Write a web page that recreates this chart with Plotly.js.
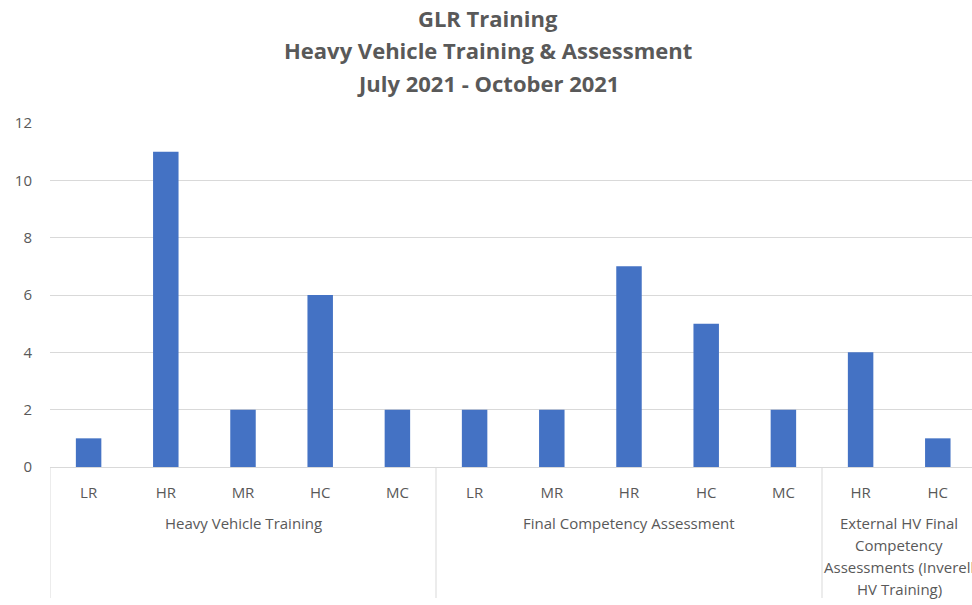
<!DOCTYPE html>
<html>
<head>
<meta charset="utf-8">
<script src="https://cdn.plot.ly/plotly-3.0.1.min.js"></script>
<style>html,body{margin:0;padding:0;background:#fff;}#chart{width:972px;height:605px;}</style>
</head>
<body>
<div id="chart"></div>
<script>
const subCategories = ["LR", "HR", "MR", "HC", "MC", "LR", "MR", "HR", "HC", "MC", "HR", "HC"];
const counts = [1, 11, 2, 6, 2, 2, 2, 7, 5, 2, 4, 1];
const groupNames = [
  ["Heavy Vehicle Training"],
  ["Final Competency Assessment"],
  ["External HV Final", "Competency", "Assessments (Inverell", "HV Training)"]
];
const groupSizes = [5, 5, 2];
const titleLines = ["GLR Training", "Heavy Vehicle Training & Assessment", "July 2021 - October 2021"];
const yTicks = [0, 2, 4, 6, 8, 10, 12];

const FONT = "'Open Sans', sans-serif";
const GREY = "#595959";
const LINE = "#d9d9d9";

// layout geometry (pixels)
const W = 972, H = 605, L = 50, T = 123, B = 138;
const plotH = H - T - B;
const catPx = 77.2;
const plotW = W - L;
const pyToPaper = py => 1 - (py - T) / plotH;

const xIdx = subCategories.map((_, i) => i);

const annotations = [];
const titleY = [18, 50, 83];
titleLines.forEach((t, i) => {
  annotations.push({
    text: "<b>" + t + "</b>", xref: "paper", yref: "paper",
    x: (488 - L) / plotW, y: pyToPaper(titleY[i]), xanchor: "center", yanchor: "middle",
    showarrow: false, font: {family: FONT, size: 22, color: GREY}
  });
});

const shapes = [];
let start = 0;
const divBottom = pyToPaper(598);
shapes.push({type: "line", xref: "x", yref: "paper", x0: -0.5, x1: -0.5, y0: 0, y1: divBottom, line: {color: LINE, width: 1}});
groupNames.forEach((lines, g) => {
  const mid = start + (groupSizes[g] - 1) / 2;
  lines.forEach((ln, k) => {
    annotations.push({
      text: ln, xref: "x", yref: "paper", x: mid, y: pyToPaper(523 + k * 22),
      xanchor: "center", yanchor: "middle", showarrow: false,
      font: {family: FONT, size: 15, color: GREY}
    });
  });
  start += groupSizes[g];
  if (g < groupNames.length - 1) {
    shapes.push({type: "line", xref: "x", yref: "paper", x0: start - 0.5, x1: start - 0.5, y0: 0, y1: divBottom, line: {color: LINE, width: 1}});
  }
});

const data = [{
  type: "bar", x: xIdx, y: counts, width: 0.33,
  marker: {color: "#4472C4"}, hoverinfo: "y"
}];

const layout = {
  width: W, height: H,
  margin: {l: L, r: 0, t: T, b: B, pad: 0},
  paper_bgcolor: "#fff", plot_bgcolor: "#fff",
  showlegend: false,
  xaxis: {
    range: [-0.5, -0.5 + plotW / catPx], tickmode: "array", tickvals: xIdx, ticktext: subCategories,
    showgrid: false, zeroline: false, showline: true, linecolor: LINE, linewidth: 1,
    ticks: "outside", ticklen: 12, tickcolor: "rgba(0,0,0,0)",
    tickfont: {family: FONT, size: 15, color: GREY}, fixedrange: true
  },
  yaxis: {
    range: [0, 12], tickmode: "array", tickvals: yTicks,
    showgrid: true, gridcolor: LINE, gridwidth: 1, zeroline: false, showline: false,
    ticks: "outside", ticklen: 14, tickcolor: "rgba(0,0,0,0)",
    tickfont: {family: FONT, size: 15, color: GREY}, fixedrange: true
  },
  annotations: annotations,
  shapes: shapes
};

Plotly.newPlot("chart", data, layout, {displayModeBar: false, staticPlot: true});
</script>
</body>
</html>
